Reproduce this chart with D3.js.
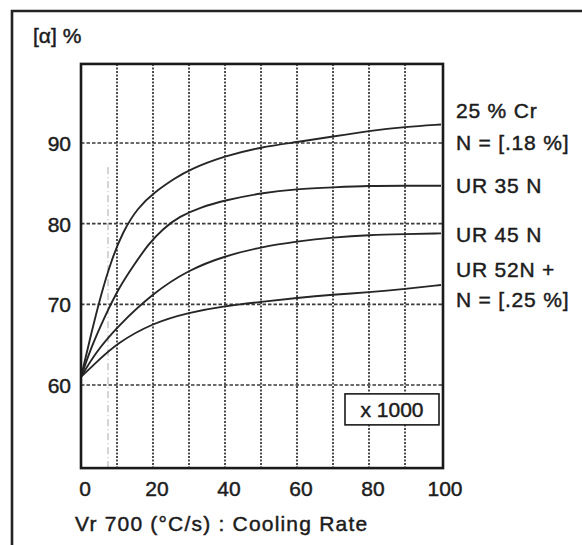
<!DOCTYPE html>
<html>
<head>
<meta charset="utf-8">
<script src="https://cdn.jsdelivr.net/npm/d3@7"></script>
<style>
    html, body { margin: 0; padding: 0; background: #fff; }
    #chart-area { width: 582px; height: 545px; }
    svg text { font-family: "Liberation Sans", Arial, sans-serif; fill: #1c1c1c; stroke: #1c1c1c; stroke-width: 0.45; }
</style>
</head>
<body>
<div id="chart-area"></div>
<script>

// tick values / grid
var xTicks = [0, 20, 40, 60, 80, 100];
var yTicks = [60, 70, 80, 90];
var xGrid = [10, 20, 30, 40, 50, 60, 70, 80, 90];

// curves: [cooling rate (x1000 C/s), alpha %]
var cr25 = [[0, 61], [2.85, 66.4], [5.6, 71.3], [8.4, 75.4], [11.6, 79.0], [15.8, 82.0], [20.4, 83.9], [26, 85.6], [30, 86.7], [40, 88.4], [50, 89.5], [60, 90.1], [70, 90.8], [80, 91.5], [90, 92], [100, 92.3]];
var ur35n = [[0, 61], [2.85, 64.7], [6.6, 68.5], [10.7, 72.2], [14.9, 75.0], [18.6, 77.4], [22.8, 79.4], [27.4, 80.9], [33, 82.0], [40, 82.9], [50, 83.8], [60, 84.3], [70, 84.5], [80, 84.7], [90, 84.7], [100, 84.7]];
var ur45n = [[0, 61], [4, 64], [10, 67.2], [20, 71.4], [30, 74.3], [40, 76], [50, 77.1], [60, 77.8], [70, 78.3], [80, 78.6], [90, 78.7], [100, 78.8]];
var ur52n = [[0, 61], [4, 62.7], [10, 65.2], [20, 67.7], [30, 69], [40, 69.8], [50, 70.3], [60, 70.8], [70, 71.2], [80, 71.5], [90, 71.9], [100, 72.4]];

// right hand labels, top to bottom
var curveLabels = ["25 % Cr", "N = [.18 %]", "UR 35 N", "UR 45 N", "UR 52N +", "N = [.25 %]"];
var yTitle = "[\u03b1] %";
var xTitle = "Vr 700 (\u00b0C/s) : Cooling Rate";
var scaleNote = "x 1000";
var markRate = 7.5;   // faint pencil line on the scan


CoolingVis = function(_parentElement) {
    this.parentElement = _parentElement;
    this.initVis();
}

CoolingVis.prototype.initVis = function() {
    var vis = this;

    vis.width = 582;
    vis.height = 545;

    vis.svg = d3.select("#" + vis.parentElement).append("svg")
        .attr("width", vis.width)
        .attr("height", vis.height);

    // scales, fitted to the gridlines of the scan
    vis.x = d3.scaleLinear().domain([0, 100]).range([81, 441]);
    vis.y = d3.scaleLinear().domain([60, 90]).range([385, 143]);

    // basis spline smooths out the reading noise of the scan
    vis.line = d3.line()
        .x(function(d) { return vis.x(d[0]); })
        .y(function(d) { return vis.y(d[1]); })
        .curve(d3.curveBasis);

    vis.wrangleData();
}

CoolingVis.prototype.wrangleData = function() {
    var vis = this;
    vis.displayData = [cr25, ur35n, ur45n, ur52n];
    vis.updateVis();
}

CoolingVis.prototype.updateVis = function() {
    var vis = this;

    var left = vis.x(0), right = vis.x(0) + 362,
        top = vis.y(99.8), bottom = vis.y(49.7);

    // outer frame (only top and left show in the scan)
    vis.svg.append("path")
        .attr("d", "M12,545 L12,11 L582,11")
        .attr("fill", "none")
        .attr("stroke", "#222")
        .attr("stroke-width", 2.6);

    // gridlines
    vis.svg.append("g").selectAll("line")
        .data(xGrid)
        .enter().append("line")
        .attr("x1", function(d) { return vis.x(d); })
        .attr("x2", function(d) { return vis.x(d); })
        .attr("y1", top)
        .attr("y2", bottom)
        .attr("stroke", "#3a3a3a")
        .attr("stroke-width", 1.8)
        .attr("stroke-dasharray", "2,1.5");

    vis.svg.append("g").selectAll("line")
        .data(yTicks)
        .enter().append("line")
        .attr("x1", left)
        .attr("x2", right)
        .attr("y1", function(d) { return vis.y(d); })
        .attr("y2", function(d) { return vis.y(d); })
        .attr("stroke", "#3a3a3a")
        .attr("stroke-width", 1.6)
        .attr("stroke-dasharray", "3.5,2");

    vis.svg.append("line")
        .attr("x1", vis.x(markRate)).attr("x2", vis.x(markRate))
        .attr("y1", vis.y(87)).attr("y2", bottom)
        .attr("stroke", "#aaa")
        .attr("stroke-width", 1)
        .attr("stroke-dasharray", "7,3,1,3");

    // curves
    vis.svg.append("g").selectAll("path")
        .data(vis.displayData)
        .enter().append("path")
        .attr("d", vis.line)
        .attr("fill", "none")
        .attr("stroke", "#262626")
        .attr("stroke-width", 1.9);

    // plot frame
    vis.svg.append("rect")
        .attr("x", left).attr("y", top)
        .attr("width", right - left).attr("height", bottom - top)
        .attr("fill", "none")
        .attr("stroke", "#1a1a1a")
        .attr("stroke-width", 2.6);

    // "x 1000" box
    var bx = right - 98, by = vis.y(58.9);
    vis.svg.append("rect")
        .attr("x", bx).attr("y", by)
        .attr("width", 94).attr("height", 31)
        .attr("fill", "#fff")
        .attr("stroke", "#1a1a1a")
        .attr("stroke-width", 1.6);
    vis.svg.append("text")
        .attr("x", bx + 47).attr("y", by + 23)
        .attr("text-anchor", "middle")
        .attr("font-size", 21)
        .text(scaleNote);

    // tick labels
    vis.svg.append("g").selectAll("text")
        .data(xTicks)
        .enter().append("text")
        .attr("x", function(d) { return vis.x(d) + 4; })
        .attr("y", 496)
        .attr("text-anchor", "middle")
        .attr("font-size", 21)
        .text(function(d) { return d; });

    vis.svg.append("g").selectAll("text")
        .data(yTicks)
        .enter().append("text")
        .attr("x", 71)
        .attr("y", function(d) { return vis.y(d) + 8; })
        .attr("text-anchor", "end")
        .attr("font-size", 21)
        .text(function(d) { return d; });

    // titles
    vis.svg.append("text")
        .attr("x", 33).attr("y", 43)
        .attr("font-size", 21)
        .text(yTitle);

    vis.svg.append("text")
        .attr("x", 75).attr("y", 531)
        .attr("font-size", 21)
        .attr("letter-spacing", 1.2)
        .text(xTitle);

    // series labels on the right
    var labelBase = [118, 150, 193, 242, 277, 307];
    vis.svg.append("g").selectAll("text")
        .data(curveLabels)
        .enter().append("text")
        .attr("x", 456)
        .attr("y", function(d, i) { return labelBase[i]; })
        .attr("font-size", 21)
        .attr("letter-spacing", 0.8)
        .text(function(d) { return d; });
}

var coolingVis = new CoolingVis("chart-area");

</script>
</body>
</html>
